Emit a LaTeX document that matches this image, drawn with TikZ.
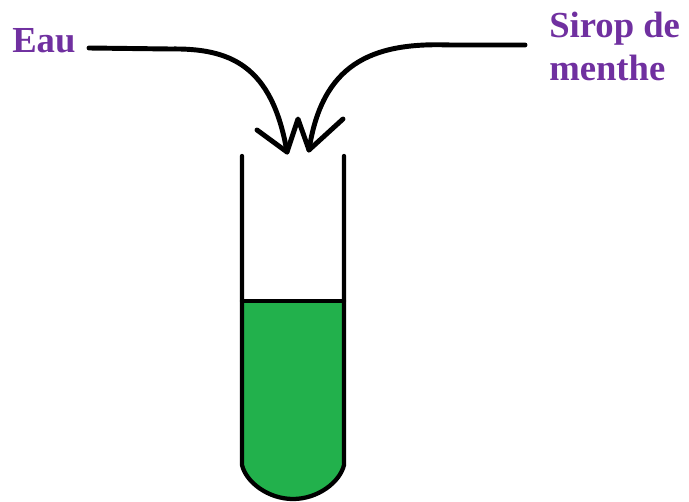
\documentclass[tikz,border=0pt]{standalone}
\usepackage{fontspec}
\setmainfont{Liberation Serif}
\definecolor{lab}{RGB}{112,48,160}
\definecolor{liq}{RGB}{34,177,76}
\tikzset{stroke/.style={line width=3.2pt,black,line cap=round,line join=round},arrowline/.style={stroke,line width=3.7pt},lbl/.style={text=lab,font=\bfseries\fontsize{27.5}{30}\selectfont,inner sep=0pt,anchor=base west}}
\begin{document}
\begin{tikzpicture}[x=1pt,y=-1pt,scale=0.75]
\useasboundingbox (0,0) rectangle (689,502);
\fill[white] (0,0) rectangle (689,502);
\fill[liq] (242,301) -- (344,301) -- (344,465) .. controls (340,482) and (318,499) .. (293,499) .. controls (268,499) and (246,482) .. (242,465) -- cycle;
\draw[stroke] (242,156) -- (242,465) .. controls (246,482) and (268,499) .. (293,499) .. controls (318,499) and (340,482) .. (344,465) -- (344,156);
\draw[stroke] (242,301) -- (344,301);
\coordinate (e0) at (89,48); \coordinate (e1) at (287,152);
\coordinate (s0) at (525,45); \coordinate (s1) at (309,150);
\draw[arrowline] (e0) -- (170,49) .. controls (230,48) and (272,65) .. (e1);
\draw[arrowline] (s0) -- (450,45) .. controls (370,42) and (322,65) .. (s1);
\draw[arrowline] (257,130) -- (e1) -- (298,119) -- (s1) -- (343,119);
\node[lbl] (eau) at (12,53) {Eau};
\node[lbl] (sirop) at (549,38) {Sirop de};
\node[lbl] (menthe) at (549,81) {menthe};
\end{tikzpicture}
\end{document}
